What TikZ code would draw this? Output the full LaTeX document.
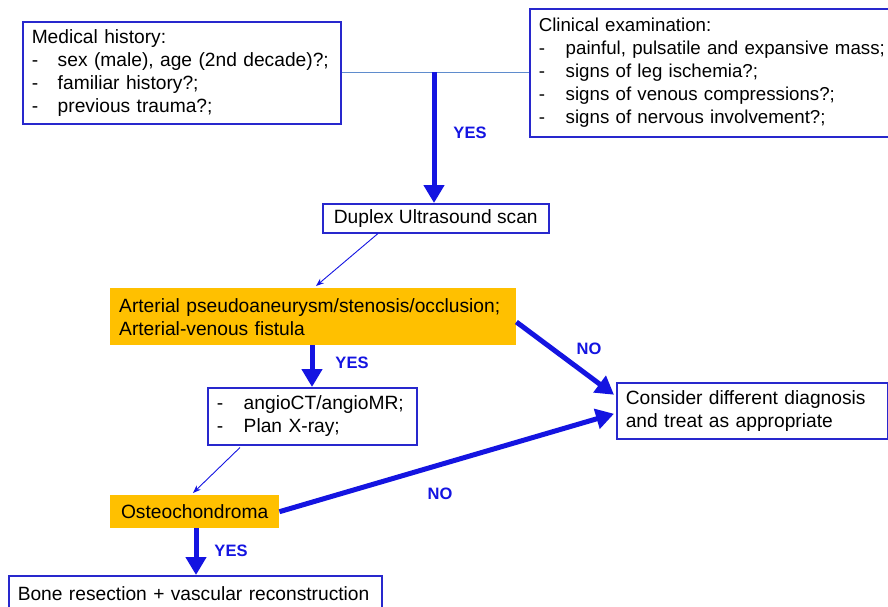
\documentclass[tikz,border=0pt]{standalone}
\usepackage{fontspec}
\setmainfont{Liberation Sans}
\usetikzlibrary{arrows.meta,calc}
\definecolor{bxblue}{RGB}{40,40,205}
\definecolor{arblue}{RGB}{20,20,225}
\definecolor{lnblue}{RGB}{95,140,205}
\definecolor{orng}{RGB}{255,192,0}
\tikzset{
  box/.style={draw=bxblue, line width=1.5pt, fill=white, inner xsep=9pt, inner ysep=0pt,
    font=\fontsize{19.2}{23}\selectfont, align=left, anchor=north west, text=black},
  obox/.style={fill=orng, inner xsep=9pt, inner ysep=0pt,
    font=\fontsize{19.2}{23}\selectfont, align=left, anchor=north west, text=black},
  thick arr/.style={draw=arblue, line width=5pt, -{Triangle[width=20pt,length=18pt]}},
  thin arr/.style={draw=arblue, line width=0.9pt, -{Stealth[width=6pt,length=8pt]}},
  lbl/.style={text=arblue, font=\fontsize{16.5}{18}\selectfont\bfseries, inner sep=0pt},
}
\newcommand{\dsh}[1]{\makebox[#1pt][l]{-}}
\begin{document}
\begin{tikzpicture}[x=1pt,y=-1pt]
\useasboundingbox (0,0) rectangle (888,606);
% boxes
\node[box, text width=300pt, minimum height=102pt] (med) at (22,21)
  {Medical history:\\\dsh{26}sex (male), age (2nd decade)?;\\\dsh{26}familiar history?;\\\dsh{26}previous trauma?;};
\node[box, text width=368pt, minimum height=128pt, font=\fontsize{18.7}{23}\selectfont] (clin) at (529,8)
  {Clinical examination:\\\dsh{27}painful, pulsatile and expansive mass;\\\dsh{27}signs of leg ischemia?;\\\dsh{27}signs of venous compressions?;\\\dsh{27}signs of nervous involvement?;};
\node[box, minimum width=226pt, minimum height=29pt, align=center, inner xsep=0pt] (dup) at (322,203)
  {Duplex Ultrasound scan};
\node[obox, text width=388pt, minimum height=57pt] (art) at (110,288)
  {Arterial pseudoaneurysm/stenosis/occlusion;\\Arterial-venous fistula};
\node[box, text width=191pt, minimum height=57pt] (ang) at (207,387)
  {\dsh{27}angioCT/angioMR;\\\dsh{27}Plan X-ray;};
\node[box, text width=253pt, minimum height=56pt] (cons) at (616,382)
  {Consider different diagnosis\\and treat as appropriate};
\node[obox, minimum width=169pt, minimum height=33pt, align=center, inner xsep=0pt] (ost) at (110,495)
  {Osteochondroma};
\node[box, text width=355pt, minimum height=36pt] (bone) at (8,575)
  {Bone resection + vascular reconstruction};
% connectors
\draw[lnblue, line width=1pt] (med.east) -- (clin.west);
\coordinate (jn) at (434,72);
\draw[thick arr] (jn) -- (jn |- dup.north);
\draw[thin arr] ($(dup.south west)+(56,0)$) -- ($(art.north west)+(206,-2)$);
\draw[thick arr] ($(art.south west)+(202,0)$) -- ($(ang.north west)+(105,0)$);
\draw[thick arr] ($(art.north east)+(0,34)$) -- ($(cons.west)+(-2,-16)$);
\draw[thin arr] ($(ang.south west)+(33,2)$) -- ($(ost.north west)+(83,-2)$);
\draw[thick arr] (ost.east) -- ($(cons.west)+(-2,3)$);
\draw[thick arr] ($(ost.south west)+(86,0)$) -- ($(bone.north west)+(188,0)$);
% labels
\node[lbl] (y1) at (470,133) {YES};
\node[lbl] (y2) at (352,363) {YES};
\node[lbl] (n1) at (589,349) {NO};
\node[lbl] (n2) at (440,494) {NO};
\node[lbl] (y3) at (231,551) {YES};
\end{tikzpicture}
\end{document}
